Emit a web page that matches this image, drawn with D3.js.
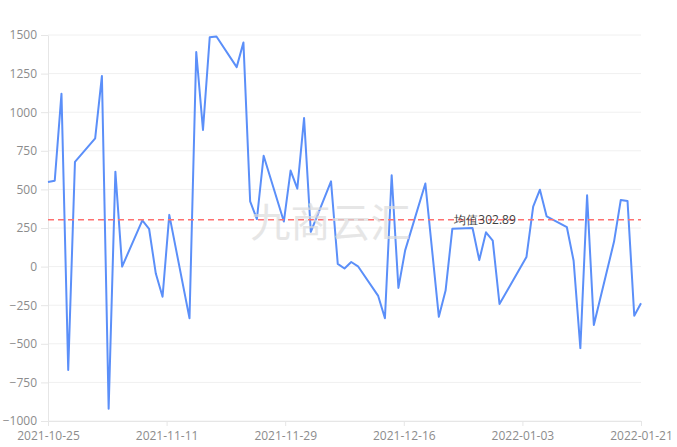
<!DOCTYPE html>
<html>
<head>
<meta charset="utf-8">
<script src="https://cdn.jsdelivr.net/npm/d3@7"></script>
<style>
  body { margin: 0; background: #fff; }
  #chart { width: 677px; height: 447px; }
  text { font-family: "Open Sans", "Noto Sans", sans-serif; }
</style>
</head>
<body>
<div id="chart"></div>
<script>
// trading dates (12-21 has no value in the source)
var dates = [
    "2021-10-25", "2021-10-26", "2021-10-27", "2021-10-28", "2021-10-29",
    "2021-11-01", "2021-11-02", "2021-11-03", "2021-11-04", "2021-11-05",
    "2021-11-08", "2021-11-09", "2021-11-10", "2021-11-11", "2021-11-12",
    "2021-11-15", "2021-11-16", "2021-11-17", "2021-11-18", "2021-11-19",
    "2021-11-22", "2021-11-23", "2021-11-24", "2021-11-25", "2021-11-26",
    "2021-11-29", "2021-11-30", "2021-12-01", "2021-12-02", "2021-12-03",
    "2021-12-06", "2021-12-07", "2021-12-08", "2021-12-09", "2021-12-10",
    "2021-12-13", "2021-12-14", "2021-12-15", "2021-12-16", "2021-12-17",
    "2021-12-20", "2021-12-22", "2021-12-23", "2021-12-24",
    "2021-12-27", "2021-12-28", "2021-12-29", "2021-12-30", "2021-12-31",
    "2022-01-04", "2022-01-05", "2022-01-06", "2022-01-07",
    "2022-01-10", "2022-01-11", "2022-01-12", "2022-01-13", "2022-01-14",
    "2022-01-17", "2022-01-18", "2022-01-19", "2022-01-20", "2022-01-21"
];

var values = [
    548, 556, 1120, -670, 678,
    830, 1235, -920, 615, 0,
    300, 245, -45, -195, 335,
    -335, 1390, 885, 1485, 1490,
    1292, 1452, 422, 308, 718,
    292, 622, 505, 962, 225,
    552, 18, -12, 30, 2,
    -190, -335, 592, -138, 105,
    538, -325, -155, 245,
    250, 42, 222, 168, -242,
    62, 388, 498, 325,
    255, 38, -528, 462, -378,
    162, 432, 425, -318, -238
];

var yTicks = [-1000, -750, -500, -250, 0, 250, 500, 750, 1000, 1250, 1500];
var xTickCount = 5; // evenly spaced intervals between first and last date
var meanValue = 302.89;
var meanLabel = "均值302.89";
var watermark = "九商云汇";

var parseDate = d3.timeParse("%Y-%m-%d");
var data = dates.map(function (d, i) { return { date: parseDate(d), value: values[i] }; });

// set the dimensions and margins of the graph
var margin = { top: 35, right: 36, bottom: 26, left: 48 },
    width = 677 - margin.left - margin.right,
    height = 447 - margin.top - margin.bottom;

var svg = d3.select("#chart")
    .append("svg")
    .attr("width", width + margin.left + margin.right)
    .attr("height", height + margin.top + margin.bottom)
    .append("g")
    .attr("transform", "translate(" + margin.left + "," + margin.top + ")");

var x = d3.scaleTime()
    .domain([data[0].date, data[data.length - 1].date])
    .range([0, width]);

var y = d3.scaleLinear()
    .domain([d3.min(yTicks), d3.max(yTicks)])
    .range([height, 0]);

var t0 = x.domain()[0].getTime(), t1 = x.domain()[1].getTime();
var xTicks = d3.range(xTickCount + 1).map(function (i) {
    return new Date(t0 + i * (t1 - t0) / xTickCount);
});

// grid lines
svg.append("g")
    .selectAll("line")
    .data(yTicks)
    .enter()
    .append("line")
    .attr("x1", 0)
    .attr("x2", width)
    .attr("y1", function (d) { return y(d); })
    .attr("y2", function (d) { return y(d); })
    .attr("stroke", "#f0f0f0")
    .attr("stroke-width", 1);

// Y axis
var yAxis = svg.append("g")
    .call(d3.axisLeft(y).tickValues(yTicks).tickFormat(d3.format("d")).tickSize(7).tickPadding(4).tickSizeOuter(0));
yAxis.select(".domain").attr("stroke", "#e6e6e6");
yAxis.selectAll(".tick line").attr("stroke", "#e6e6e6");
yAxis.selectAll(".tick text")
    .attr("fill", "#8c8c8c")
    .style("font-size", "12px");

// X axis
var xAxis = svg.append("g")
    .attr("transform", "translate(0," + height + ")")
    .call(d3.axisBottom(x).tickValues(xTicks).tickFormat(d3.timeFormat("%Y-%m-%d")).tickSize(5).tickPadding(5).tickSizeOuter(0));
xAxis.select(".domain").attr("stroke", "#e6e6e6");
xAxis.selectAll(".tick line").attr("stroke", "#e6e6e6");
xAxis.selectAll(".tick text")
    .attr("fill", "#8c8c8c")
    .style("font-size", "12px");

// the series line
svg.append("path")
    .datum(data)
    .attr("fill", "none")
    .attr("stroke", "#5B8FF9")
    .attr("stroke-width", 2)
    .attr("stroke-linejoin", "round")
    .attr("d", d3.line()
        .x(function (d) { return x(d.date); })
        .y(function (d) { return y(d.value); }));

// mean line
svg.append("line")
    .attr("x1", 0)
    .attr("x2", width)
    .attr("y1", y(meanValue))
    .attr("y2", y(meanValue))
    .attr("stroke", "#ff7070")
    .attr("stroke-width", 1.5)
    .attr("stroke-dasharray", "6,4");

svg.append("text")
    .attr("x", x(parseDate("2021-12-24")) + 2)
    .attr("y", y(meanValue))
    .attr("dy", "0.35em")
    .attr("fill", "#404040")
    .style("font-size", "12px")
    .text(meanLabel);

// watermark on top
svg.append("text")
    .attr("x", width / 2 - 14)
    .attr("y", y(meanValue) + 3)
    .attr("text-anchor", "middle")
    .attr("dy", "0.35em")
    .attr("fill", "#dcdcdc")
    .attr("opacity", 0.7)
    .style("font-family", "'Noto Sans CJK SC', sans-serif")
    .style("font-size", "40px")
    .text(watermark);
</script>
</body>
</html>
